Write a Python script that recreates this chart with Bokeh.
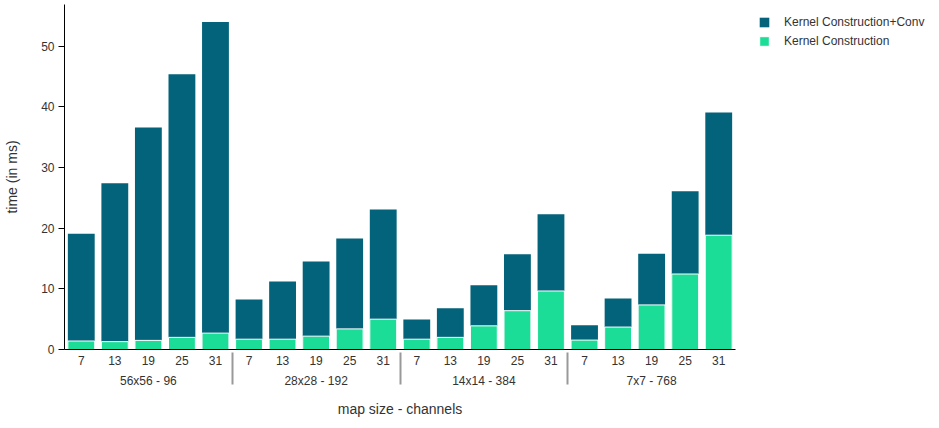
from bokeh.plotting import figure
from bokeh.models import FactorRange, Range1d, Legend, LegendItem, SingleIntervalTicker, ColumnDataSource
from bokeh.embed import file_html
from bokeh.resources import INLINE

groups = ["56x56 - 96", "28x28 - 192", "14x14 - 384", "7x7 - 768"]
kernel_sizes = ["7", "13", "19", "25", "31"]
kc_conv = [19.1, 27.4, 36.6, 45.4, 54.0,
           8.25, 11.2, 14.5, 18.3, 23.1,
           4.95, 6.8, 10.6, 15.7, 22.3,
           4.0, 8.4, 15.8, 26.1, 39.1]
kc_only = [1.4, 1.3, 1.5, 2.0, 2.7,
           1.7, 1.7, 2.2, 3.4, 5.0,
           1.7, 2.0, 3.9, 6.4, 9.65,
           1.55, 3.7, 7.35, 12.45, 18.85]
series_names = ["Kernel Construction+Conv", "Kernel Construction"]
y_ticks_interval = 10

DARK = "#03637a"
GREEN = "#1cdd97"
TXT = "#333333"
FONT = "Liberation Sans"

x = [(g, k) for g in groups for k in kernel_sizes]
src = ColumnDataSource(dict(x=x, total=kc_conv, kernel=kc_only))

p = figure(frame_width=671, frame_height=345, output_backend="svg", toolbar_location=None,
           x_range=FactorRange(*x, factor_padding=0, group_padding=0, range_padding=0),
           y_range=Range1d(0, 56.9),
           min_border_left=64, min_border_right=196, min_border_top=4, min_border_bottom=71)

r1 = p.vbar(x="x", top="total", width=0.8, source=src, fill_color=DARK, line_color=None)
r2 = p.vbar(x="x", top="kernel", width=0.8, source=src, fill_color=GREEN, line_color="white", line_width=1)

p.outline_line_color = None
p.xgrid.visible = False
p.ygrid.visible = False

ya = p.yaxis[0]
ya.ticker = SingleIntervalTicker(interval=y_ticks_interval)
ya.minor_tick_line_color = None
ya.major_tick_out = 6
ya.major_tick_in = 0
ya.axis_line_color = "#000000"
ya.major_tick_line_color = "#000000"
ya.major_label_text_font = FONT
ya.major_label_text_font_size = "12px"
ya.major_label_text_color = TXT
ya.major_label_standoff = 4
ya.axis_label = "time (in ms)"
ya.axis_label_text_font = FONT
ya.axis_label_text_font_size = "14px"
ya.axis_label_text_font_style = "normal"
ya.axis_label_text_color = TXT
ya.axis_label_standoff = 18

xa = p.xaxis[0]
xa.axis_line_color = "#000000"
xa.major_tick_line_color = None
xa.major_tick_out = 0
xa.major_tick_in = 0
xa.major_label_standoff = 6
xa.major_label_text_font = FONT
xa.major_label_text_font_size = "12px"
xa.major_label_text_color = TXT
xa.group_text_font = FONT
xa.group_text_font_size = "12px"
xa.group_text_font_style = "normal"
xa.group_text_color = TXT
xa.separator_line_color = "#999999"
xa.separator_line_width = 2
xa.axis_label = "map size - channels"
xa.axis_label_text_font = FONT
xa.axis_label_text_font_size = "14px"
xa.axis_label_text_font_style = "normal"
xa.axis_label_text_color = TXT
xa.axis_label_standoff = 10

legend = Legend(items=[LegendItem(label=series_names[0], renderers=[r1]),
                       LegendItem(label=series_names[1], renderers=[r2])],
                location=(23, 300), orientation="vertical",
                glyph_width=12, glyph_height=12, label_standoff=14,
                label_height=16, spacing=3, padding=5, margin=0,
                label_text_font=FONT, label_text_font_size="12px", label_text_color=TXT,
                border_line_color=None, background_fill_alpha=0)
p.add_layout(legend, "right")

open("out.html", "w").write(file_html(p, INLINE))
